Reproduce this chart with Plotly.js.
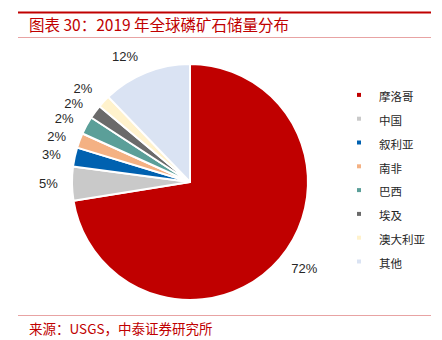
<!DOCTYPE html>
<html><head><meta charset="utf-8">
<script src="https://cdn.plot.ly/plotly-3.0.1.min.js"></script>
<style>
body{margin:0;padding:0;background:#fff;}
#chart{width:442px;height:340px;}
.legend .legendpoints path{d:path("M2,2H-2V-2H2Z");stroke-width:0 !important;}
path.textline{stroke-opacity:0 !important;}
</style>
</head><body>
<div id="chart"></div>
<script>
// Reserves (thousand tonnes, USGS 2019) – shares shown as percentages
const countries = ['摩洛哥','中国','叙利亚','南非','巴西','埃及','澳大利亚','其他'];
const reserves = [50000, 3200, 1800, 1400, 1700, 1300, 1200, 8400];
const sliceColors = ['#C00000','#C9C9C9','#0061B0','#F4B183','#5B9F99','#6A6A6A','#FFF2CC','#DAE3F3'];
const titleText = '图表 30：2019 年全球磷矿石储量分布';
const sourceText = '来源：USGS，中泰证券研究所';

const W = 442, H = 340;
const pieTrace = {
  type: 'pie',
  labels: countries.map(c => '<span style="font-size:11.5px">' + c + '</span>'),
  values: reserves,
  sort: false,
  direction: 'clockwise',
  rotation: 0,
  marker: {colors: sliceColors, line: {color: '#ffffff', width: 2}},
  textinfo: 'none',
  hoverinfo: 'label+percent',
  domain: {x: [72/W, 308/W], y: [40/H, 276/H]}
};
// transparent, slightly larger copy used only to place the percentage labels
const labelTrace = {
  type: 'pie',
  labels: countries,
  values: reserves,
  sort: false,
  direction: 'clockwise',
  rotation: 0,
  showlegend: false,
  marker: {colors: countries.map(() => 'rgba(0,0,0,0)'), line: {width: 0}},
  textposition: 'outside',
  texttemplate: '%{percent:.0%}',
  outsidetextfont: {family: '"Liberation Sans", Arial, sans-serif', size: 13, color: '#262626'},
  hoverinfo: 'skip',
  domain: {x: [62/W, 318/W], y: [30/H, 286/H]}
};

const layout = {
  width: W, height: H,
  margin: {l: 0, r: 0, t: 0, b: 0},
  paper_bgcolor: '#ffffff',
  showlegend: true,
  legend: {
    x: 339/W, y: 1 - 78/H, xanchor: 'left', yanchor: 'top',
    font: {family: '"Noto Sans CJK SC", sans-serif', size: 16, color: '#262626'},
    itemwidth: 30, bgcolor: 'rgba(0,0,0,0)'
  },
  shapes: [
    {type: 'line', xref: 'paper', yref: 'paper', x0: 18/W, x1: 431/W, y0: 1 - 12.5/H, y1: 1 - 12.5/H, line: {color: '#C00000', width: 2}},
    {type: 'line', xref: 'paper', yref: 'paper', x0: 18/W, x1: 431/W, y0: 1 - 37.5/H, y1: 1 - 37.5/H, line: {color: '#E8A3A3', width: 1}},
    {type: 'line', xref: 'paper', yref: 'paper', x0: 18/W, x1: 431/W, y0: 1 - 315.5/H, y1: 1 - 315.5/H, line: {color: '#E8A3A3', width: 1}}
  ],
  annotations: [
    {text: titleText, xref: 'paper', yref: 'paper', x: 27/W, y: 1 - 24/H, xanchor: 'left', yanchor: 'middle', showarrow: false,
     font: {family: '"Noto Sans CJK SC", sans-serif', size: 15.5, color: '#C00000'}},
    {text: sourceText, xref: 'paper', yref: 'paper', x: 27/W, y: 1 - 328/H, xanchor: 'left', yanchor: 'middle', showarrow: false,
     font: {family: '"Noto Sans CJK SC", sans-serif', size: 13.5, color: '#C00000'}}
  ]
};

Plotly.newPlot('chart', [pieTrace, labelTrace], layout, {staticPlot: true, displayModeBar: false});
</script>
</body></html>
